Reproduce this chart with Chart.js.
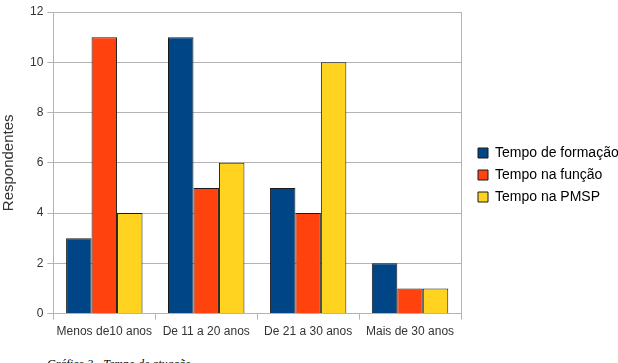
<!DOCTYPE html>
<html>
<head>
<meta charset="utf-8">
<script src="https://cdn.jsdelivr.net/npm/chart.js@4"></script>
<style>
  body { margin: 0; width: 618px; height: 363px; overflow: hidden; background: #fff; }
  #wrap { position: absolute; left: 0; top: 0; width: 640px; height: 344px; }
  #caption { position: absolute; left: 47px; top: 357px; font: italic 12px "Liberation Serif", serif; color: #000; white-space: nowrap; }
</style>
</head>
<body>
<div id="wrap"><canvas id="myChart"></canvas></div>
<div id="caption">Gráfico 3 - Tempo de atuação</div>
<script>
const categories = ["Menos de10 anos", "De 11 a 20 anos", "De 21 a 30 anos", "Mais de 30 anos"];
const formacao = [3, 11, 5, 2];
const funcao = [11, 5, 4, 1];
const pmsp = [4, 6, 10, 1];

const ctx = document.getElementById("myChart").getContext("2d");
Chart.defaults.font.family = "'Liberation Sans', Arial, sans-serif";
Chart.defaults.color = "#333";

const chart = new Chart(ctx, {
  type: "bar",
  data: {
    labels: categories,
    datasets: [
      { label: "Tempo de formação", data: formacao, backgroundColor: "#004586" },
      { label: "Tempo na função", data: funcao, backgroundColor: "#ff420e" },
      { label: "Tempo na PMSP", data: pmsp, backgroundColor: "#ffd320" },
    ],
  },
  options: {
    responsive: true,
    maintainAspectRatio: false,
    animation: false,
    datasets: {
      bar: {
        categoryPercentage: 0.75,
        barPercentage: 1,
        borderColor: "#1a1a1a",
        borderWidth: 1,
      },
    },
    layout: { padding: { top: 12, left: 0, right: 0, bottom: 0 } },
    scales: {
      x: {
        grid: { offset: true, drawOnChartArea: false, color: "#b3b3b3", tickLength: 6 },
        border: { color: "#b3b3b3" },
        ticks: { font: { size: 12 }, color: "#333", padding: 5 },
      },
      y: {
        min: 0,
        max: 12,
        ticks: { stepSize: 2, font: { size: 12 }, color: "#333", padding: 4 },
        grid: { color: "#b3b3b3", tickLength: 6 },
        border: { color: "#b3b3b3" },
        title: { display: true, text: "Respondentes", font: { size: 15 }, color: "#333", padding: { top: 0, bottom: 8 } },
      },
      // right frame line of the plot area
      yRight: {
        position: "right",
        min: 0,
        max: 12,
        ticks: { display: false },
        grid: { drawOnChartArea: false, drawTicks: false },
        border: { color: "#b3b3b3" },
        afterFit(scale) {
          scale.width = 9;
        },
      },
    },
    plugins: {
      legend: {
        position: "right",
        labels: { boxWidth: 10, boxHeight: 10, font: { size: 14 }, color: "#000", padding: 8 },
      },
      tooltip: { enabled: false },
    },
  },
});

// widen the legend box so the long label runs to the window edge,
// and nudge the items up a little
const legendFit = chart.legend.fit;
chart.legend.fit = function () {
  legendFit.call(this);
  this.width = 170;
  if (this.columnSizes && this.columnSizes[0]) this.columnSizes[0].height += 6;
};
chart.update();
</script>
</body>
</html>
